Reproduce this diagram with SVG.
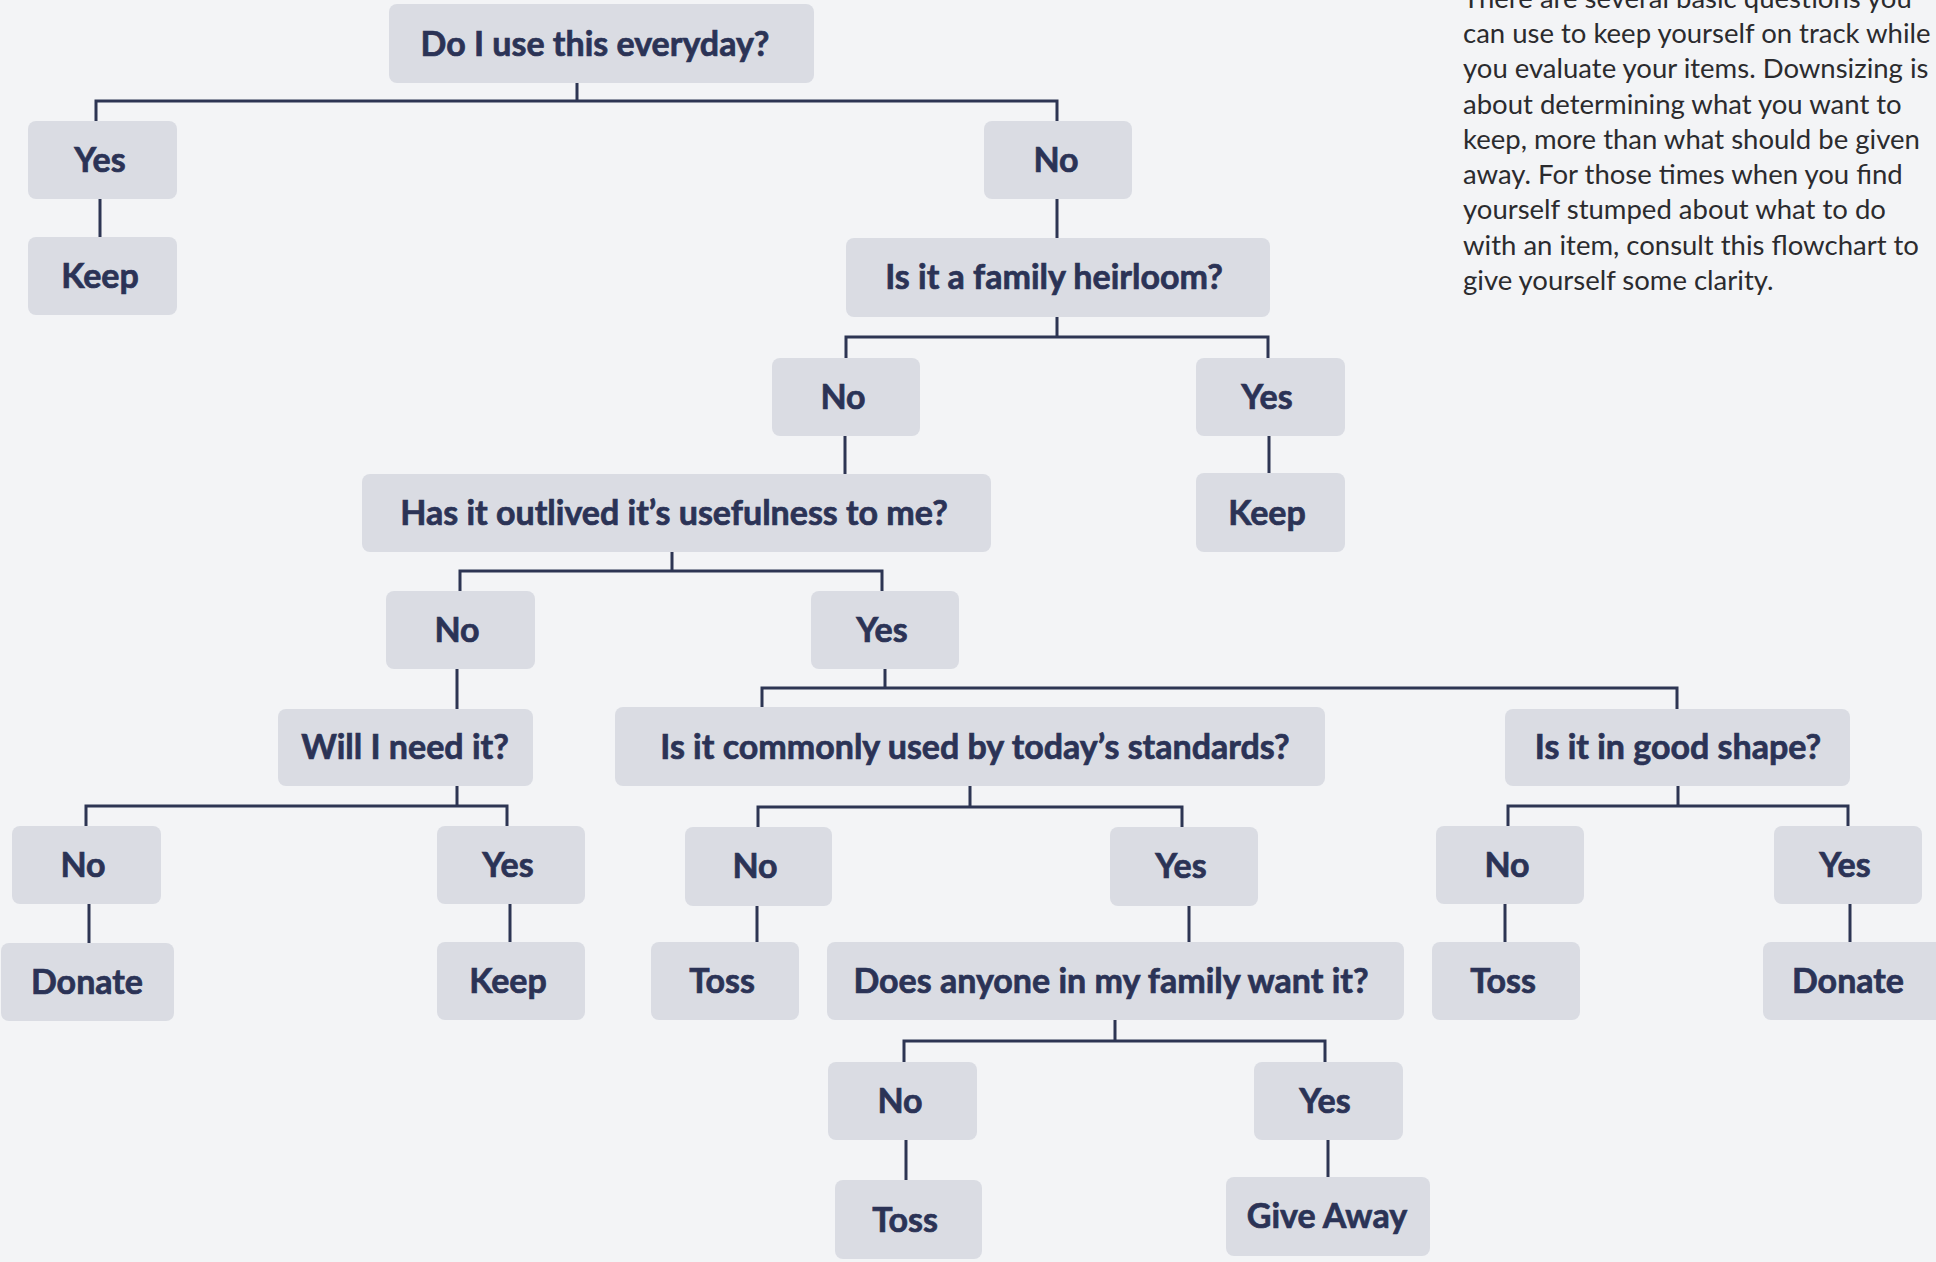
<svg xmlns="http://www.w3.org/2000/svg" width="1936" height="1262" viewBox="0 0 1936 1262">
<style>
.bg{fill:#f3f4f6}
.node rect{fill:#dadce3}
.node text{font-family:"Source Sans Pro",Lato,"Noto Sans",sans-serif;font-weight:700;font-size:34px;fill:#2b3356;stroke:#2b3356;stroke-width:0.7;text-anchor:middle}
.conn path{fill:none;stroke:#2d3553;stroke-width:3}
.para{font-family:"Source Sans Pro",Lato,"Noto Sans",sans-serif;font-size:27.5px;fill:#2b2b2e}
</style>
<rect class="bg" x="0" y="0" width="1936" height="1262"/>
<g id="connectors" class="conn">
<path d="M577,83 V101 M96,121 V101 H1057 V121"/>
<path d="M100,199 V237"/>
<path d="M1057,199 V238"/>
<path d="M1057,317 V337 M846,358 V337 H1268 V358"/>
<path d="M845,436 V474"/>
<path d="M1269,436 V473"/>
<path d="M672,552 V571 M460,591 V571 H882 V591"/>
<path d="M457,669 V709"/>
<path d="M885,669 V688 M762,707 V688 H1677 V709"/>
<path d="M457,786 V806 M86,826 V806 H507 V826"/>
<path d="M89,904 V943"/>
<path d="M510,904 V942"/>
<path d="M970,786 V807 M758,827 V807 H1182 V827"/>
<path d="M757,906 V942"/>
<path d="M1189,906 V942"/>
<path d="M1115,1020 V1041 M904,1062 V1041 H1325 V1062"/>
<path d="M906,1140 V1180"/>
<path d="M1328,1140 V1177"/>
<path d="M1678,786 V806 M1508,826 V806 H1848 V826"/>
<path d="M1505,904 V942"/>
<path d="M1850,904 V942"/>
</g>
<g id="n_q1" class="node"><rect x="389" y="4" width="425" height="79" rx="8"/><text x="595" y="56">Do I use this everyday?</text></g>
<g id="n_yes1" class="node"><rect x="28" y="121" width="149" height="78" rx="8"/><text x="100" y="172">Yes</text></g>
<g id="n_keep1" class="node"><rect x="28" y="237" width="149" height="78" rx="8"/><text x="100" y="288">Keep</text></g>
<g id="n_no1" class="node"><rect x="984" y="121" width="148" height="78" rx="8"/><text x="1056" y="172">No</text></g>
<g id="n_q2" class="node"><rect x="846" y="238" width="424" height="79" rx="8"/><text x="1054" y="289">Is it a family heirloom?</text></g>
<g id="n_no2" class="node"><rect x="772" y="358" width="148" height="78" rx="8"/><text x="843" y="409">No</text></g>
<g id="n_yes2" class="node"><rect x="1196" y="358" width="149" height="78" rx="8"/><text x="1267" y="409">Yes</text></g>
<g id="n_keep2" class="node"><rect x="1196" y="473" width="149" height="79" rx="8"/><text x="1267" y="525">Keep</text></g>
<g id="n_q3" class="node"><rect x="362" y="474" width="629" height="78" rx="8"/><text x="674" y="525">Has it outlived it’s usefulness to me?</text></g>
<g id="n_no3" class="node"><rect x="386" y="591" width="149" height="78" rx="8"/><text x="457" y="642">No</text></g>
<g id="n_yes3" class="node"><rect x="811" y="591" width="148" height="78" rx="8"/><text x="882" y="642">Yes</text></g>
<g id="n_q4" class="node"><rect x="278" y="709" width="255" height="77" rx="8"/><text x="405" y="759">Will I need it?</text></g>
<g id="n_q5" class="node"><rect x="615" y="707" width="710" height="79" rx="8"/><text x="975" y="759">Is it commonly used by today’s standards?</text></g>
<g id="n_q6" class="node"><rect x="1505" y="709" width="345" height="77" rx="8"/><text x="1678" y="759">Is it in good shape?</text></g>
<g id="n_no4" class="node"><rect x="12" y="826" width="149" height="78" rx="8"/><text x="83" y="877">No</text></g>
<g id="n_yes4" class="node"><rect x="437" y="826" width="148" height="78" rx="8"/><text x="508" y="877">Yes</text></g>
<g id="n_donate1" class="node"><rect x="1" y="943" width="173" height="78" rx="8"/><text x="87" y="994">Donate</text></g>
<g id="n_keep3" class="node"><rect x="437" y="942" width="148" height="78" rx="8"/><text x="508" y="993">Keep</text></g>
<g id="n_no5" class="node"><rect x="685" y="827" width="147" height="79" rx="8"/><text x="755" y="878">No</text></g>
<g id="n_yes5" class="node"><rect x="1110" y="827" width="148" height="79" rx="8"/><text x="1181" y="878">Yes</text></g>
<g id="n_toss1" class="node"><rect x="651" y="942" width="148" height="78" rx="8"/><text x="722" y="993">Toss</text></g>
<g id="n_q7" class="node"><rect x="827" y="942" width="577" height="78" rx="8"/><text x="1111" y="993">Does anyone in my family want it?</text></g>
<g id="n_no6" class="node"><rect x="828" y="1062" width="149" height="78" rx="8"/><text x="900" y="1113">No</text></g>
<g id="n_yes6" class="node"><rect x="1254" y="1062" width="149" height="78" rx="8"/><text x="1325" y="1113">Yes</text></g>
<g id="n_toss2" class="node"><rect x="835" y="1180" width="147" height="79" rx="8"/><text x="905" y="1232">Toss</text></g>
<g id="n_give" class="node"><rect x="1226" y="1177" width="204" height="79" rx="8"/><text x="1327" y="1228">Give Away</text></g>
<g id="n_no7" class="node"><rect x="1436" y="826" width="148" height="78" rx="8"/><text x="1507" y="877">No</text></g>
<g id="n_yes7" class="node"><rect x="1774" y="826" width="148" height="78" rx="8"/><text x="1845" y="877">Yes</text></g>
<g id="n_toss3" class="node"><rect x="1432" y="942" width="148" height="78" rx="8"/><text x="1503" y="993">Toss</text></g>
<g id="n_donate2" class="node"><rect x="1763" y="942" width="180" height="78" rx="8"/><text x="1848" y="993">Donate</text></g>
<g id="intro">
<text class="para" x="1463" y="8">There are several basic questions you</text>
<text class="para" x="1463" y="43">can use to keep yourself on track while</text>
<text class="para" x="1463" y="78">you evaluate your items. Downsizing is</text>
<text class="para" x="1463" y="114">about determining what you want to</text>
<text class="para" x="1463" y="149">keep, more than what should be given</text>
<text class="para" x="1463" y="184">away. For those times when you find</text>
<text class="para" x="1463" y="219">yourself stumped about what to do</text>
<text class="para" x="1463" y="255">with an item, consult this flowchart to</text>
<text class="para" x="1463" y="290">give yourself some clarity.</text>
</g>
</svg>
